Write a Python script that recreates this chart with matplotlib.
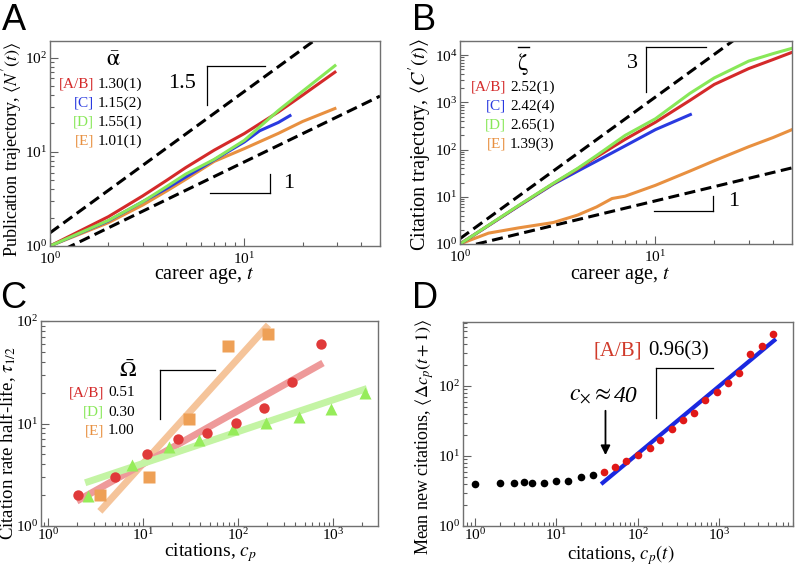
import matplotlib
matplotlib.use('Agg')
import matplotlib.pyplot as plt
from matplotlib.lines import Line2D
import numpy as np

# ------------------------------------------------------------
# Data
# ------------------------------------------------------------

# A: publication trajectory <N'(t)>
a_t = [1, 2, 3, 4, 5, 7, 10, 15, 20, 29.3]
a_red = [1, 2.05, 3.4, 5.0, 6.8, 10.4, 15.6, 26.5, 40, 70]
a_green = [1, 1.87, 2.95, 4.3, 5.8, 8.3, 13.2, 27.5, 44, 82]
a_orange = [1, 1.77, 2.72, 3.85, 5.1, 7.9, 10.8, 15.7, 21, 28.8]
a_blue_t = [1, 2, 3, 4, 5, 7, 10, 12, 15, 17.2]
a_blue = [1, 1.85, 2.95, 4.1, 5.4, 8.2, 12.7, 16.7, 20.5, 24.2]
a_labels = ['[A/B]', '[C]', '[D]', '[E]']
a_values = ['1.30(1)', '1.15(2)', '1.55(1)', '1.01(1)']

# B: citation trajectory <C'(t)>
b_t = [1, 2, 3, 4, 5, 7, 10, 15, 20, 30, 40, 50]
b_red = [1, 6.5, 19, 39, 70, 165, 380, 1100, 2400, 5200, 8100, 11500]
b_green = [1, 6.6, 19.3, 40, 75, 200, 450, 1550, 3300, 7500, 10800, 14000]
b_blue_t = [1, 2, 3, 4, 5, 7, 10, 15.1]
b_blue = [1, 6.4, 18.5, 35, 57, 120, 265, 553]
b_orange_t = [1, 1.4, 2, 3, 4, 5, 6, 7, 10, 15, 20, 30, 40, 50]
b_orange = [1, 1.7, 2.2, 2.85, 4.1, 6.1, 9.2, 10.3, 17.5, 35, 58, 115, 180, 265]
b_values = ['2.52(1)', '2.42(4)', '2.65(1)', '1.39(3)']

# C: citation rate half-life vs citations
c_red_x = [2.05, 5.07, 11, 23.2, 46.9, 94.6, 188, 370, 741]
c_red_y = [2.0, 3.0, 5.0, 7.0, 8.0, 10.1, 14.1, 25.2, 59.5]
c_green_x = [2.6, 7.6, 18.5, 39, 89, 196, 437, 955, 2140]
c_green_y = [1.95, 3.9, 5.9, 6.9, 8.9, 10.1, 11.6, 14, 19.8]
c_orange_x = [3.5, 11.6, 30.5, 79, 205]
c_orange_y = [2.0, 3.0, 11, 57, 75]
# power-law fits: amplitude, exponent, x-range
c_red_fit = (1.22, 0.52, 2.0, 780)
c_green_fit = (2.0, 0.31, 2.45, 2265)
c_orange_fit = (0.385, 1.025, 3.5, 208)
c_labels = ['[A/B]', '[D]', '[E]']
c_values = ['0.51', '0.30', '1.00']

# D: mean new citations vs citations
d_black_x = [1, 2, 3, 4, 5, 7, 10, 14, 20, 28]
d_black_y = [4.0, 4.1, 4.05, 4.25, 4.05, 4.15, 4.45, 4.45, 4.95, 5.35]
d_red_x = [38, 52, 72, 101, 139, 189, 263, 362, 494, 675, 931, 1293, 1767, 2410, 3325, 4620]
d_red_y = [5.9, 7.0, 8.6, 10.4, 13, 17.1, 24.5, 33, 41, 64, 82, 110, 153, 286, 376, 558]
d_fit = (0.127, 0.965, 37, 4750)

# ------------------------------------------------------------
# Style
# ------------------------------------------------------------
plt.rcParams['font.family'] = ['Liberation Serif', 'DejaVu Serif']
plt.rcParams['mathtext.fontset'] = 'stix'

RED = '#d42a2a'
BLUE = '#2a3ae0'
GREEN = '#88e858'
ORANGE = '#e89040'

W, H = 796, 566
fig = plt.figure(figsize=(W / 100, H / 100), dpi=100)


def px_axes(l, t, r, b):
    return fig.add_axes([l / W, 1 - b / H, (r - l) / W, (b - t) / H])


def ftext(x, y, s, **kw):
    fig.text(x / W, 1 - y / H, s, **kw)


def style(ax, xpad=2):
    ax.set_xscale('log')
    ax.set_yscale('log')
    for sp in ax.spines.values():
        sp.set_color('#707070')
        sp.set_linewidth(1.0)
    ax.tick_params(which='both', direction='in', top=False, right=False,
                   colors='#606060', labelcolor='black', labelsize=11, pad=2)
    ax.tick_params(axis='x', which='both', pad=xpad)
    ax.tick_params(which='major', length=6, width=0.8)
    ax.tick_params(which='minor', length=3, width=0.8)


def guide(ax, xs, c, k):
    xs = np.array(xs, dtype=float)
    ax.plot(xs, c * xs ** k, color='black', lw=2.2, dashes=(3.6, 1.8))


def slope_mark(ax, x1, x2, ytop, ybot, corner='left'):
    if corner == 'left':
        ax.plot([x1, x2], [ytop, ytop], color='black', lw=0.9)
        ax.plot([x1, x1], [ytop, ybot], color='black', lw=0.9)
    else:
        ax.plot([x1, x2], [ybot, ybot], color='black', lw=0.9)
        ax.plot([x2, x2], [ybot, ytop], color='black', lw=0.9)


def xlabel(x, y, s, size=14.5):
    ftext(x, y, s, fontsize=size, ha='center', va='center')


def ylabel(x, y, s, size=13):
    ftext(x, y, s, fontsize=size, ha='center', va='center', rotation=90)


# ------------------------------------------------------------
# Panel A
# ------------------------------------------------------------
ax = px_axes(50, 41, 380, 246)
style(ax, xpad=4)
guide(ax, [1, 50], 1.38, 1.5)
guide(ax, [1, 50], 0.78, 1.0)
ax.plot(a_t, a_orange, color=ORANGE, lw=2.2)
ax.plot(a_blue_t, a_blue, color=BLUE, lw=2.2)
ax.plot(a_t, a_red, color=RED, lw=2.2)
ax.plot(a_t, a_green, color=GREEN, lw=2.2)
slope_mark(ax, 6.4, 12.8, 81.7, 31.6, 'left')
slope_mark(ax, 6.7, 13.6, 5.84, 3.64, 'right')
ax.set_xlim(1, 50)
ax.set_ylim(1, 150)
xlabel(204, 276, 'career age, $t$')
ylabel(12, 150, r"Publication trajectory, $\langle N'(t)\rangle$", 13)
ftext(113, 60, r'$\bar{\mathrm{\alpha}}$', fontsize=17, ha='center', va='center')
for i, (lab, val, col) in enumerate(zip(a_labels, a_values, [RED, BLUE, GREEN, ORANGE])):
    ftext(94, 84 + 19 * i, lab, color=col, fontsize=11, ha='right', va='center')
    ftext(98, 84 + 19 * i, val, color='black', fontsize=11, ha='left', va='center')
ftext(196, 84, '1.5', fontsize=16, ha='right', va='center')
ftext(283, 183, '1', fontsize=16, ha='left', va='center')

# ------------------------------------------------------------
# Panel B
# ------------------------------------------------------------
ax = px_axes(460, 41, 792, 244)
style(ax, xpad=4)
guide(ax, [1, 50], 1.3, 3.0)
guide(ax, [1, 50], 0.82, 1.0)
ax.plot(b_orange_t, b_orange, color=ORANGE, lw=2.2)
ax.plot(b_blue_t, b_blue, color=BLUE, lw=2.2)
ax.plot(b_t, b_red, color=RED, lw=2.2)
ax.plot(b_t, b_green, color=GREEN, lw=2.2)
slope_mark(ax, 8.97, 18.1, 15000, 1690, 'left')
slope_mark(ax, 9.88, 19.6, 10.5, 5.02, 'right')
ax.set_xlim(1, 50)
ax.set_ylim(1, 2e4)
xlabel(620, 276, 'career age, $t$')
ylabel(420, 144, r"Citation trajectory, $\langle C'(t)\rangle$", 14.5)
# zeta with an overbar drawn as a short rule
ftext(523, 64, r'$\mathrm{\zeta}$', fontsize=17, ha='center', va='center')
fig.add_artist(Line2D([518 / W, 529 / W], [1 - 47 / H, 1 - 47 / H], color='black', lw=1.0))
for i, (lab, val, col) in enumerate(zip(a_labels, b_values, [RED, BLUE, GREEN, ORANGE])):
    ftext(506, 87 + 19 * i, lab, color=col, fontsize=11, ha='right', va='center')
    ftext(510, 87 + 19 * i, val, color='black', fontsize=11, ha='left', va='center')
ftext(638, 63, '3', fontsize=16, ha='right', va='center')
ftext(728, 202, '1', fontsize=16, ha='left', va='center')

# ------------------------------------------------------------
# Panel C
# ------------------------------------------------------------
ax = px_axes(41, 321, 378, 526)
style(ax, xpad=1)
for (amp, k, x0, x1), col in zip([c_orange_fit, c_red_fit, c_green_fit],
                                 ['#f5c49a', '#ee9a9a', '#c4f4a4']):
    xs = np.array([x0, x1])
    ax.plot(xs, amp * xs ** k, color=col, lw=5, solid_capstyle='butt')
ax.plot(c_green_x, c_green_y, '^', color='#96ec5a', ms=9, mec='none')
ax.plot(c_orange_x, c_orange_y, 's', color='#eea056', ms=9, mec='none')
ax.plot(c_red_x, c_red_y, 'o', color='#e03a3a', ms=7.5, mec='none')
slope_mark(ax, 15.1, 57, 32.9, 11.0, 'left')
ax.set_xlim(0.84, 2960)
ax.set_ylim(1, 100)
xlabel(210, 553, 'citations, $c_p$', 14)
ylabel(8, 443, r'Citation rate half-life, $\tau_{1/2}$', 13.5)
ftext(128, 371, r'$\bar{\Omega}$', fontsize=16, ha='center', va='center')
for i, (lab, val, col) in enumerate(zip(c_labels, c_values, [RED, GREEN, ORANGE])):
    ftext(104, 393 + 19 * i, lab, color=col, fontsize=11, ha='right', va='center')
    ftext(108, 393 + 19 * i, val, color='black', fontsize=11, ha='left', va='center')

# ------------------------------------------------------------
# Panel D
# ------------------------------------------------------------
ax = px_axes(463, 322, 793, 526)
style(ax, xpad=1)
amp, k, x0, x1 = d_fit
xs = np.array([x0, x1])
ax.plot(xs, amp * xs ** k, color='#1a28e0', lw=3)
ax.plot(d_black_x, d_black_y, 'o', color='black', ms=5.5, mec='none')
ax.plot(d_red_x, d_red_y, 'o', color='#e01818', ms=5.5, mec='none')
slope_mark(ax, 165, 843, 181, 35, 'left')
ax.annotate('', xy=(40, 9.4), xytext=(40, 48.5),
            arrowprops=dict(arrowstyle='-|>', color='black', lw=1.3, mutation_scale=14))
ax.set_xlim(0.71, 8060)
ax.set_ylim(1, 820)
xlabel(621, 555, 'citations, $c_p(t)$', 13.5)
ylabel(425, 437, r'Mean new citations, $\langle \Delta c_p(t+1)\rangle$', 13)
ftext(642, 351, '[A/B]', color='#d03a2a', fontsize=15, ha='right', va='center')
ftext(648, 351, '0.96(3)', color='black', fontsize=15, ha='left', va='center')
ftext(612, 396, r'$c_{\times}\approx$', fontsize=17, ha='right', va='center')
ftext(614, 396, '40', fontsize=17, style='italic', ha='left', va='center')

# ------------------------------------------------------------
# Panel letters
# ------------------------------------------------------------
for lab, x, y in [('A', 2, 20), ('B', 412, 20), ('C', 0, 299), ('D', 412, 299)]:
    ftext(x, y, lab, fontsize=26, family='Liberation Sans', ha='left', va='center')

fig.savefig('out.png', dpi=100)
